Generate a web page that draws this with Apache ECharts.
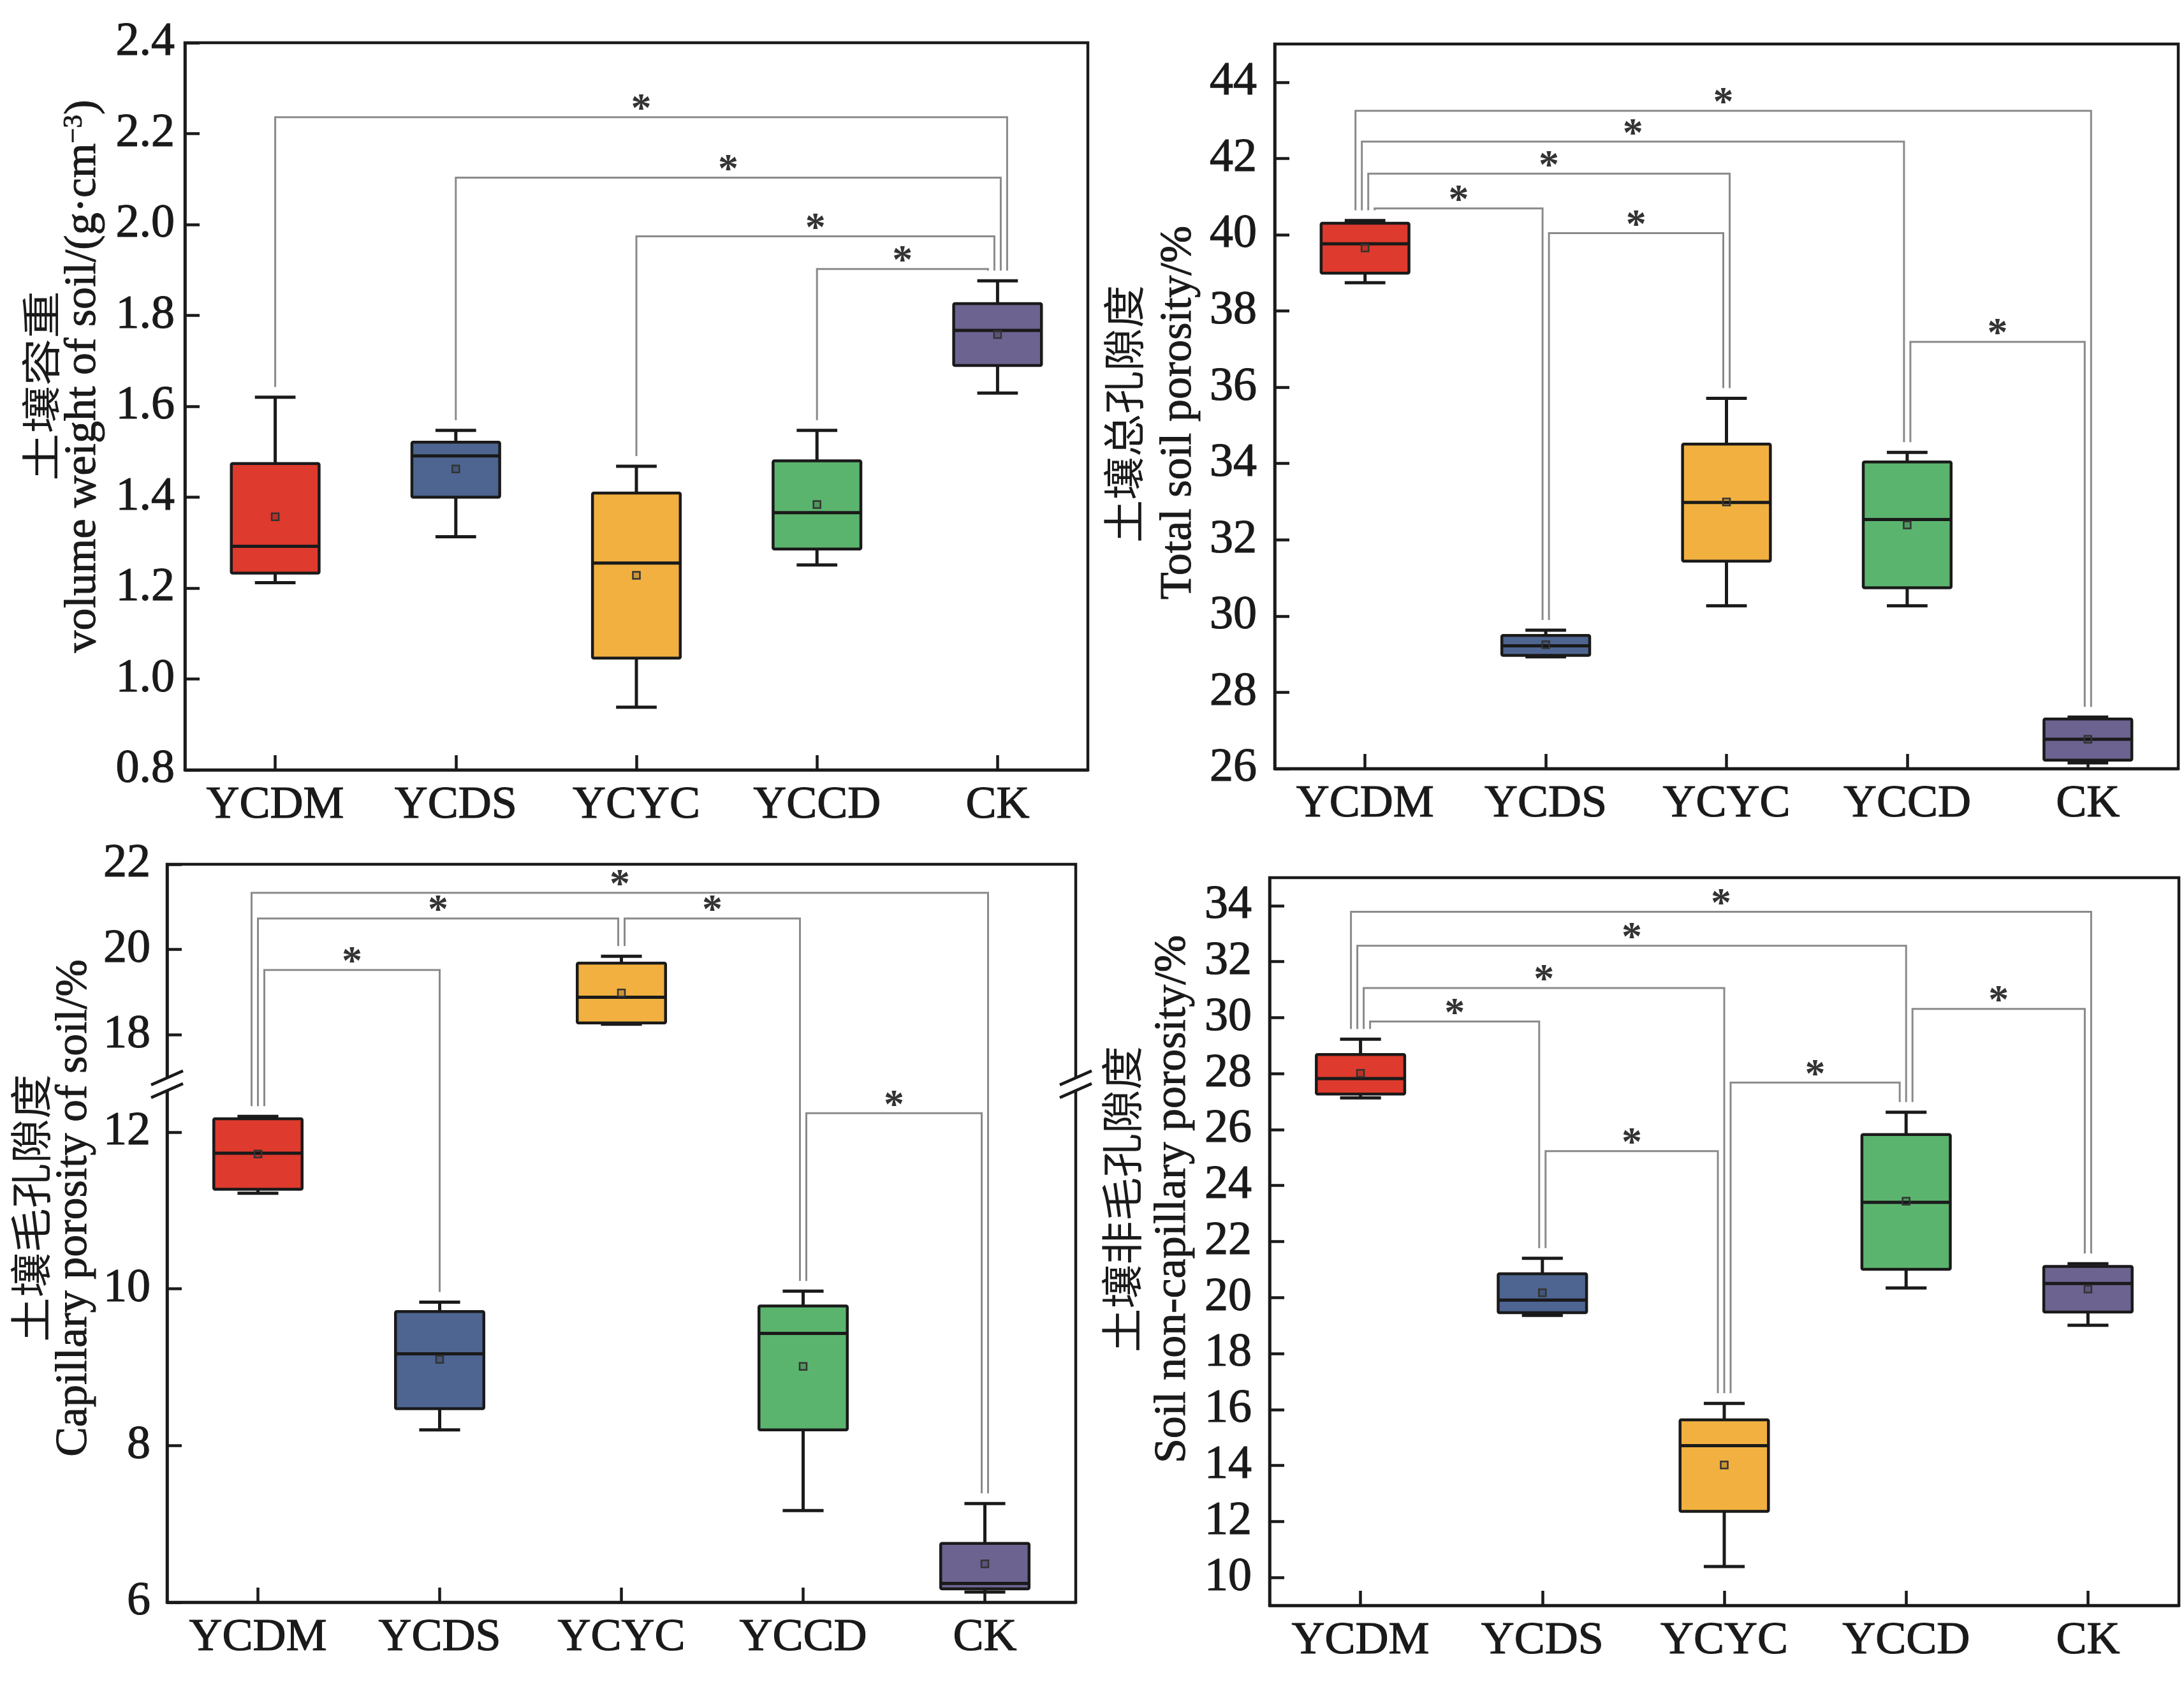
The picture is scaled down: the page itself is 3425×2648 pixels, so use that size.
<!DOCTYPE html>
<html><head><meta charset="utf-8">
<script src="https://cdn.jsdelivr.net/npm/echarts@6/dist/echarts.min.js"></script>
<style>html,body{margin:0;padding:0;background:#fff}#c{width:3425px;height:2648px}</style>
</head><body><div id="c"></div>
<script>
// ---------- DATA ----------
const categories = ['YCDM', 'YCDS', 'YCYC', 'YCCD', 'CK'];

// each box: [min, Q1, median, Q3, max]
const bulkBox  = [[1.212,1.233,1.292,1.474,1.620],[1.313,1.400,1.491,1.521,1.547],[0.938,1.046,1.255,1.409,1.468],[1.251,1.286,1.366,1.480,1.547],[1.629,1.690,1.767,1.826,1.876]];
const bulkMean = [1.357, 1.462, 1.228, 1.384, 1.758];
const bulkSig  = [[0,4,2.236],[1,4,2.103],[2,4,1.974],[3,4,1.902]];
const bulkTicks = [0.8,1.0,1.2,1.4,1.6,1.8,2.0,2.2,2.4];

const totalBox  = [[38.74,38.99,39.76,40.30,40.37],[28.93,28.97,29.22,29.49,29.63],[30.27,31.44,32.98,34.51,35.71],[30.27,30.74,32.53,34.04,34.29],[26.15,26.22,26.77,27.30,27.35]];
const totalMean = [39.65, 29.25, 32.99, 32.39, 26.77];
const totalSig  = [[0,4,43.25],[0,3,42.44],[0,2,41.60],[0,1,40.69],[1,2,40.04],[3,4,37.19]];
const totalTicks = [26,28,30,32,34,36,38,40,42,44];

const capBox  = [[11.22,11.27,11.73,12.17,12.20],[8.20,8.47,9.17,9.71,9.83],[18.25,18.28,18.88,19.68,19.84],[7.17,8.20,9.43,9.78,9.97],[6.13,6.17,6.24,6.75,7.26]];
const capMean = [11.72, 9.10, 18.98, 9.01, 6.49];
const capSig  = [[0,4,21.33],[0,2,20.73],[2,3,20.73],[0,1,19.52],[3,4,12.24]];
const capTicks = [6,8,10,12,18,20,22];
const capBreak = [12.61, 16.84];   // axis break: lower end, upper start
const capUpperRatio = 0.544;        // scale of upper segment relative to lower

const nonBox  = [[27.13,27.27,27.82,28.68,29.23],[19.36,19.46,19.91,20.85,21.40],[10.39,12.36,14.71,15.63,16.22],[20.34,21.01,23.40,25.82,26.62],[19.01,19.48,20.50,21.11,21.21]];
const nonMean = [28.01, 20.17, 14.02, 23.44, 20.30];
const nonSig  = [[0,4,33.78],[0,3,32.57],[0,2,31.06],[0,1,29.86],[3,4,30.31],[2,3,27.68],[1,2,25.23]];
const nonTicks = [10,12,14,16,18,20,22,24,26,28,30,32,34];

// ---------- STYLE ----------
const boxColors = ['#DE3A2D', '#4D6590', '#F1B03F', '#5BB46E', '#6D6391'];
const SERIF = 'Liberation Serif, Times New Roman, serif';
const CJK = 'Noto Sans CJK SC';
const INK = '#1a1a1a';

const ident = v => v;
const capFwd = v => v <= capBreak[0] ? v : capBreak[0] + (v - capBreak[1]) * capUpperRatio;
const capInv = t => t <= capBreak[0] + 1e-9 ? t : capBreak[1] + (t - capBreak[0]) / capUpperRatio;

const panels = [
  { box: bulkBox, mean: bulkMean, sig: bulkSig, ticks: bulkTicks, tf: ident, inv: ident,
    min: 0.8, max: 2.4, fmt: v => v.toFixed(1), ylMargin: 16,
    grid: { left: 290, top: 67, width: 1416, height: 1140 },
    cn: '土壤容重', cnSize: 62, cnScale: 1.2, en: 'volume weight of soil/(g·cm{sup|−3})', cnPos: [64, 605], enPos: [131, 590] },
  { box: totalBox, mean: totalMean, sig: totalSig, ticks: totalTicks, tf: ident, inv: ident,
    min: 26, max: 45, fmt: v => String(Math.round(v)), ylMargin: 28,
    grid: { left: 1999, top: 69, width: 1417, height: 1136 },
    cn: '土壤总孔隙度', cnSize: 66, cnScale: 1.02, en: 'Total soil porosity/%', cnPos: [1762, 649], enPos: [1849, 647] },
  { box: capBox, mean: capMean, sig: capSig, ticks: capTicks, tf: capFwd, inv: capInv,
    min: 6, max: capFwd(22), fmt: v => String(Math.round(v)), ylMargin: 26,
    grid: { left: 262, top: 1355, width: 1425, height: 1157 },
    cn: '土壤毛孔隙度', cnSize: 66, cnScale: 1.06, en: 'Capillary porosity of soil/%', cnPos: [48, 1894], enPos: [117, 1894] },
  { box: nonBox, mean: nonMean, sig: nonSig, ticks: nonTicks, tf: ident, inv: ident,
    min: 9, max: 35, fmt: v => String(Math.round(v)), ylMargin: 28,
    grid: { left: 1991, top: 1376, width: 1426, height: 1141 },
    cn: '土壤非毛孔隙度', cnSize: 66, cnScale: 1.04, en: 'Soil non-capillary porosity/%', cnPos: [1759, 1880], enPos: [1840, 1880] }
];

function legOffsets(sig, step) {
  const offL = [], offR = [];
  for (let g = 0; g < categories.length; g++) {
    const inc = sig.map((s, k) => ({ s, k })).filter(o => o.s[1] === g).sort((a, b) => a.s[2] - b.s[2]);
    const out = sig.map((s, k) => ({ s, k })).filter(o => o.s[0] === g).sort((a, b) => b.s[2] - a.s[2]);
    const all = inc.concat(out);
    const n = all.length;
    all.forEach((o, idx) => {
      const off = (idx - (n - 1) / 2) * step;
      if (o.s[1] === g) offR[o.k] = off; else offL[o.k] = off;
    });
  }
  return { offL, offR };
}

const grids = [], xAxes = [], yAxes = [], series = [], graphics = [];

panels.forEach((p, pi) => {
  grids.push(Object.assign({ show: true, borderColor: INK, borderWidth: 4.5, backgroundColor: 'transparent', containLabel: false }, p.grid));
  xAxes.push({
    type: 'category', gridIndex: pi, data: categories, boundaryGap: true,
    axisLine: { show: true, lineStyle: { color: INK, width: 4.5 } },
    axisTick: { show: true, inside: true, alignWithLabel: true, length: 23, lineStyle: { color: INK, width: 4.5 } },
    axisLabel: { color: INK, fontFamily: SERIF, fontSize: 72, margin: 20, textBorderColor: INK, textBorderWidth: 1.2 },
    splitLine: { show: false }
  });
  const tv = p.ticks.map(p.tf);
  yAxes.push({
    type: 'value', gridIndex: pi, min: p.min, max: p.max,
    axisLine: { show: true, lineStyle: { color: INK, width: 4.5 } },
    axisTick: { show: true, inside: true, length: 23, customValues: tv, lineStyle: { color: INK, width: 4.5 } },
    axisLabel: { color: INK, fontFamily: SERIF, fontSize: 74, margin: p.ylMargin, customValues: tv,
      textBorderColor: INK, textBorderWidth: 1.2,
      formatter: v => p.fmt(p.inv(v)) },
    splitLine: { show: false }
  });

  // significance brackets
  const { offL, offR } = legOffsets(p.sig, 10);
  series.push({
    type: 'custom', xAxisIndex: pi, yAxisIndex: pi, z: 2,
    data: p.sig.map(s => [s[0], s[1], p.tf(s[2])]),
    encode: { x: [0, 1], y: 2 },
    renderItem: (params, api) => {
      const k = params.dataIndex;
      const i = api.value(0), j = api.value(1), lv = api.value(2);
      const xi = api.coord([i, lv])[0] + offL[k];
      const xj = api.coord([j, lv])[0] + offR[k];
      const y = api.coord([i, lv])[1];
      const endI = api.coord([i, p.tf(p.box[i][4])])[1] - 16;
      const endJ = api.coord([j, p.tf(p.box[j][4])])[1] - 16;
      const ls = { stroke: '#8a8a8a', lineWidth: 3, fill: null };
      return { type: 'group', children: [
        { type: 'polyline', shape: { points: [[xi, endI], [xi, y], [xj, y], [xj, endJ]] }, style: ls },
        { type: 'text', x: (xi + xj) / 2, y: y - 10,
          style: { text: '*', fontFamily: SERIF, fontSize: 64, fontWeight: 'bold', fill: '#333', align: 'center', verticalAlign: 'middle' } }
      ] };
    }
  });

  // box plots
  series.push({
    type: 'custom', xAxisIndex: pi, yAxisIndex: pi, z: 3,
    data: p.box.map((b, i) => [i, ...b.map(p.tf), p.tf(p.mean[i])]),
    encode: { x: 0, y: [1, 2, 3, 4, 5, 6] },
    renderItem: (params, api) => {
      const i = api.value(0);
      const v = [1, 2, 3, 4, 5].map(d => api.value(d));
      const x = api.coord([i, v[0]])[0];
      const ys = v.map(val => api.coord([i, val])[1]);
      const band = api.size([1, 0])[0];
      const bw = band * 0.486, cw = band * 0.225;
      const ym = api.coord([i, api.value(6)])[1];
      const ln = { stroke: INK, lineWidth: 5, fill: null };
      const c = boxColors[i];
      return { type: 'group', children: [
        { type: 'line', shape: { x1: x, y1: ys[4], x2: x, y2: ys[3] }, style: ln },
        { type: 'line', shape: { x1: x, y1: ys[1], x2: x, y2: ys[0] }, style: ln },
        { type: 'line', shape: { x1: x - cw / 2, y1: ys[4], x2: x + cw / 2, y2: ys[4] }, style: ln },
        { type: 'line', shape: { x1: x - cw / 2, y1: ys[0], x2: x + cw / 2, y2: ys[0] }, style: ln },
        { type: 'rect', shape: { x: x - bw / 2, y: ys[3], width: bw, height: Math.max(ys[1] - ys[3], 1), r: 2 },
          style: { fill: c, stroke: INK, lineWidth: 4.5 } },
        { type: 'line', shape: { x1: x - bw / 2, y1: ys[2], x2: x + bw / 2, y2: ys[2] }, style: ln },
        { type: 'rect', shape: { x: x - 5.5, y: ym - 5.5, width: 11, height: 11 },
          style: { fill: 'rgba(0,0,0,0.15)', stroke: '#333', lineWidth: 2.5 } }
      ] };
    }
  });

  // axis titles (two lines, rotated)
  graphics.push({ type: 'text', x: p.cnPos[0], y: p.cnPos[1], rotation: Math.PI / 2, scaleX: p.cnScale, z: 50,
    style: { text: p.cn, fontFamily: CJK, fontSize: p.cnSize, fill: INK, align: 'center', verticalAlign: 'middle' } });
  graphics.push({ type: 'text', x: p.enPos[0], y: p.enPos[1], rotation: Math.PI / 2, z: 50,
    style: { text: p.en, fontFamily: SERIF, fontSize: 70, fill: INK, stroke: INK, lineWidth: 1,
      align: 'center', verticalAlign: 'middle',
      rich: { sup: { fontFamily: SERIF, fontSize: 42, fill: INK, verticalAlign: 'top', padding: [0, 0, 26, 0] } } } });
});

const chart = echarts.init(document.getElementById('c'), null, { renderer: 'canvas' });
chart.setOption({
  backgroundColor: '#ffffff',
  animation: false,
  grid: grids, xAxis: xAxes, yAxis: yAxes, series: series, graphic: graphics
});

// axis-break marks for panel 3
const bp = chart.convertToPixel({ yAxisIndex: 2 }, capBreak[0]);
const g3 = panels[2].grid;
[g3.left, g3.left + g3.width].forEach(x => {
  graphics.push({ type: 'rect', z: 60, shape: { x: x - 8, y: bp - 9, width: 16, height: 18 }, style: { fill: '#fff' } });
  [-10, 10].forEach(dy => {
    graphics.push({ type: 'line', z: 61, shape: { x1: x - 25, y1: bp + dy + 11, x2: x + 25, y2: bp + dy - 11 },
      style: { stroke: INK, lineWidth: 4.5 } });
  });
});
chart.setOption({ graphic: graphics }, { replaceMerge: ['graphic'] });
</script></body></html>
